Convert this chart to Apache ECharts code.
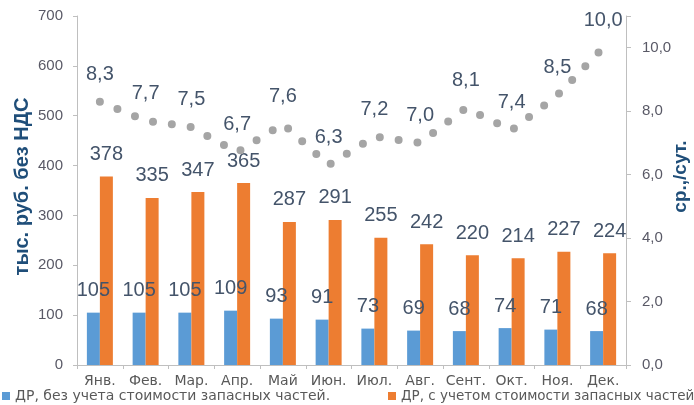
<!DOCTYPE html>
<html>
<head>
<meta charset="utf-8">
<script src="https://cdn.jsdelivr.net/npm/echarts@6/dist/echarts.min.js"></script>
<style>
  html, body { margin: 0; padding: 0; background: #fff; }
  #chart { width: 694px; height: 405px; }
</style>
</head>
<body>
<div id="chart"></div>
<script>
// данные по месяцам
const months = ['Янв.', 'Фев.', 'Мар.', 'Апр.', 'Май', 'Июн.', 'Июл.', 'Авг.', 'Сент.', 'Окт.', 'Ноя.', 'Дек.'];
const withoutParts = [105, 105, 105, 109, 93, 91, 73, 69, 68, 74, 71, 68];
const withParts = [378, 335, 347, 365, 287, 291, 255, 242, 220, 214, 227, 224];
const perDay = [8.3, 7.7, 7.5, 6.7, 7.6, 6.3, 7.2, 7.0, 8.1, 7.4, 8.5, 10.0];

const seriesNames = ['ДР, без учета стоимости запасных частей.', 'ДР, с учетом стоимости запасных частей'];
const leftAxisName = 'тыс. руб. без НДС';
const rightAxisName = 'ср.,/сут.';

const font = '"Liberation Sans", Arial, sans-serif';
const wideFont = '"DejaVu Sans", sans-serif';
const labelColor = '#44546a';
const axisColor = '#bfbfbf';
const tickColor = '#595966';

const comma = v => v.toFixed(1).replace('.', ',');

const chart = echarts.init(document.getElementById('chart'), null, { renderer: 'canvas' });

// две легенды, чтобы поставить пункты как в исходнике
const legendBase = {
  top: 389,
  padding: 0,
  itemWidth: 8,
  itemHeight: 8,
  icon: 'rect'
};

const option = {
  animation: false,
  textStyle: { fontFamily: font },
  grid: { left: 77, right: 68, top: 16, bottom: 40, outerBoundsMode: 'none', containLabel: false },
  legend: [
    Object.assign({}, legendBase, {
      left: 2,
      data: [seriesNames[0]],
      textStyle: { fontSize: 14, color: '#595959', fontFamily: wideFont }
    }),
    Object.assign({}, legendBase, {
      left: 388,
      data: [seriesNames[1]],
      textStyle: { fontSize: 13.5, color: '#595959', fontFamily: wideFont }
    })
  ],
  xAxis: {
    type: 'category',
    data: months,
    axisLine: { lineStyle: { color: axisColor } },
    axisTick: { show: true, length: 4, lineStyle: { color: axisColor } },
    axisLabel: { fontSize: 14, color: '#595959', margin: 9, interval: 0, fontFamily: wideFont }
  },
  yAxis: [
    {
      type: 'value',
      min: 0,
      max: 700,
      interval: 100,
      name: leftAxisName,
      nameLocation: 'middle',
      nameGap: 45,
      nameMoveOverlap: false,
      nameRotate: 90,
      nameTextStyle: { fontSize: 20, fontWeight: 'bold', color: '#1f4e79', padding: [0, 0, 0, 8] },
      splitLine: { show: false },
      axisLine: { show: true, lineStyle: { color: axisColor } },
      axisTick: { show: true, length: 4, lineStyle: { color: axisColor } },
      axisLabel: { fontSize: 15, color: tickColor, margin: 14 }
    },
    {
      type: 'value',
      min: 0,
      max: 11,
      interval: 2,
      name: rightAxisName,
      nameLocation: 'middle',
      nameGap: 45,
      nameMoveOverlap: false,
      nameRotate: 90,
      nameTextStyle: { fontSize: 19, fontWeight: 'bold', color: '#1f4e79', padding: [0, 0, 0, 28] },
      splitLine: { show: false },
      axisLine: { show: true, lineStyle: { color: axisColor } },
      axisTick: { show: true, length: 5, lineStyle: { color: axisColor } },
      axisLabel: {
        fontSize: 15,
        color: tickColor,
        margin: 16,
        formatter: v => (v > 10 ? '' : comma(v))
      }
    }
  ],
  series: [
    {
      name: seriesNames[0],
      type: 'bar',
      data: withoutParts,
      barWidth: 13,
      barGap: '0%',
      itemStyle: { color: '#5b9bd5' },
      label: { show: true, position: 'top', distance: 12, fontSize: 20, color: labelColor }
    },
    {
      name: seriesNames[1],
      type: 'bar',
      data: withParts,
      barWidth: 13,
      barGap: '0%',
      itemStyle: { color: '#ed7d31' },
      label: { show: true, position: 'top', distance: 12, fontSize: 20, color: labelColor }
    },
    {
      name: 'perDay',
      type: 'line',
      yAxisIndex: 1,
      data: perDay,
      symbol: 'circle',
      symbolSize: 1,
      itemStyle: { color: 'rgba(0,0,0,0)' },
      lineStyle: { color: '#a5a5a5', width: 8, type: [0, 19], cap: 'round' },
      label: {
        show: true,
        position: 'top',
        distance: 17,
        fontSize: 20,
        color: labelColor,
        formatter: p => comma(p.value)
      },
      z: 5
    }
  ]
};

chart.setOption(option);
</script>
</body>
</html>
